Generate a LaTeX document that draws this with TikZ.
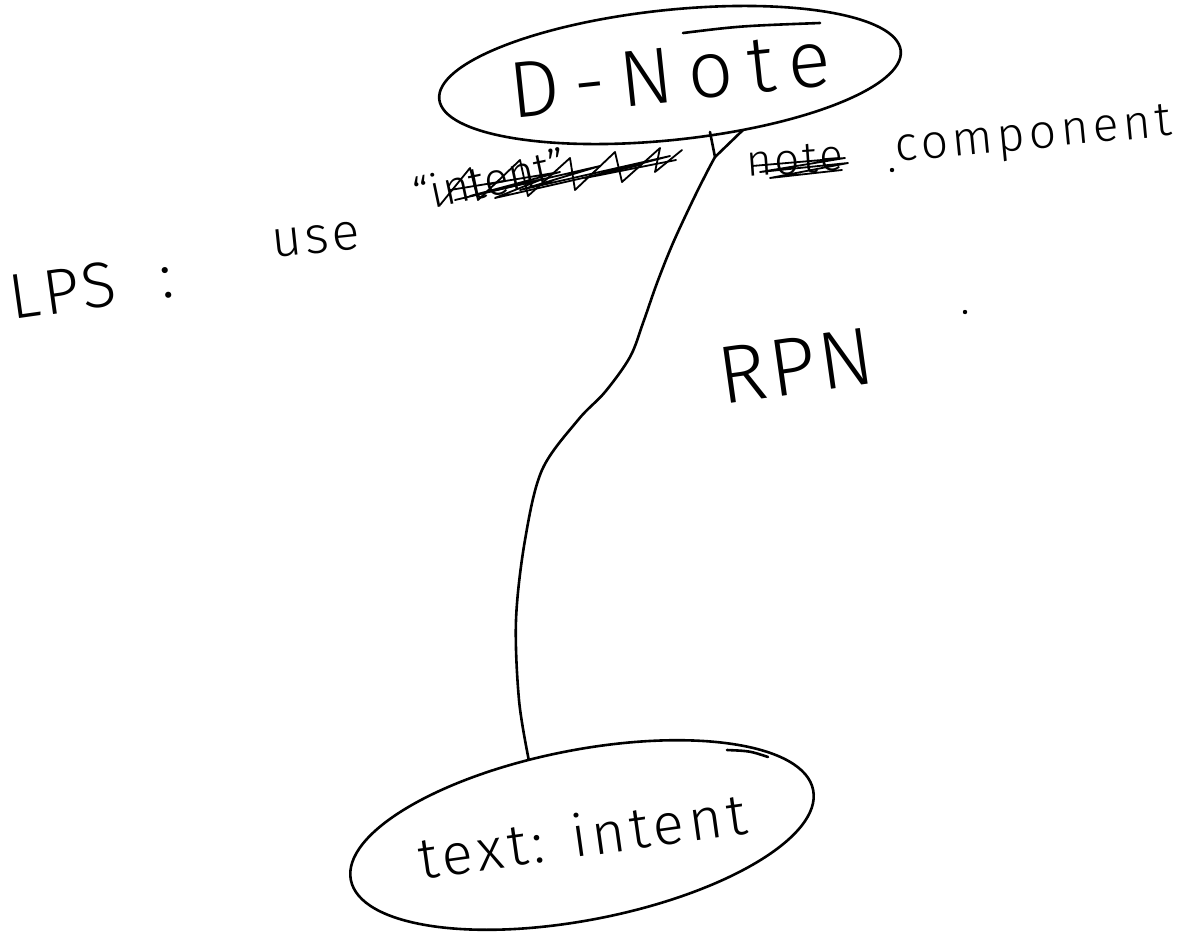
\documentclass[tikz,border=0pt]{standalone}
\usepackage{fontspec}
\setmainfont{Fira Sans}[UprightFont=* Light]
\usetikzlibrary{shapes.geometric}
\begin{document}
\begin{tikzpicture}[x=1pt, y=-1pt,
  pen/.style={line width=2.6pt, line cap=round, line join=round},
  bubble/.style={draw, ellipse, pen, inner sep=0pt},
  hand/.style={inner sep=0pt, anchor=base west},
  scratch/.style={line width=1.8pt, line cap=round, line join=round}]
\useasboundingbox[fill=white] (0,0) rectangle (1183,935);

% the two bubbles
\node[bubble, minimum width=464pt, minimum height=130pt, rotate=6] (dnote) at (670,75)
  {\fontsize{80}{80}\selectfont\addfontfeature{LetterSpace=18}D-Note};
\node[bubble, minimum width=470pt, minimum height=170pt, rotate=11] (intent) at (582,835)
  {\rotatebox{-3}{\fontsize{58}{58}\selectfont\addfontfeature{LetterSpace=8}text: intent}};

% second pen strokes where the bubbles were closed
\draw[pen] (683,33) .. controls (740,26) .. (820,23);
\draw[pen] (727,750) .. controls (750,751) .. (768,757);

% labels
\node[hand, rotate=8] (lps) at (12,320)
  {\fontsize{64}{64}\selectfont\addfontfeature{LetterSpace=6}LPS\hspace{44pt}:};
\node[hand, rotate=6] (use) at (273,258)
  {\fontsize{52}{52}\selectfont\addfontfeature{LetterSpace=6}use};
\node[hand, rotate=12] (struck) at (417,212)
  {\fontsize{46}{46}\selectfont “intent”};
\node[hand, rotate=4] (note) at (747,177)
  {\fontsize{44}{44}\selectfont\addfontfeature{LetterSpace=6}note};
\node[hand, rotate=5.5] (comp) at (896,162)
  {\fontsize{48}{48}\selectfont\addfontfeature{LetterSpace=9}component};
\node[hand, rotate=8] (rpn) at (722,405)
  {\fontsize{82}{82}\selectfont\addfontfeature{LetterSpace=4}RPN};
\fill (892,170) circle (2.2pt);
\fill (965,312) circle (2.2pt);

% scratching out
\draw[scratch] (440,205) -- (470,168) -- (478,200) -- (520,160) -- (528,196)
  -- (570,158) -- (575,190) -- (615,152) -- (622,182) -- (660,148) -- (655,172)
  -- (682,150);
\draw[scratch] (450,190) -- (560,172) -- (470,196) -- (600,166) -- (520,190)
  -- (670,156) -- (585,178) -- (676,160);
\draw[scratch] (455,200) -- (540,180) -- (495,198) -- (640,165);
\draw[scratch] (752,166) -- (845,158) -- (760,172) -- (848,163) -- (770,178)
  -- (842,170);

% connector from the fork under D-Note down to the lower bubble
\coordinate (fork) at (715,157);
\coordinate (forkL) at (710,132);
\coordinate (forkR) at (743,130);
\draw[pen] (forkL) -- (fork) -- (forkR);
\draw[pen] plot[smooth, tension=0.55] coordinates {(fork) (707,172) (693,200)
  (673,243) (657,283) (643,323) (630,357) (605,392) (578,420) (542,470)
  (525,540) (516,620) (519,700) (intent.114)};
\end{tikzpicture}
\end{document}
